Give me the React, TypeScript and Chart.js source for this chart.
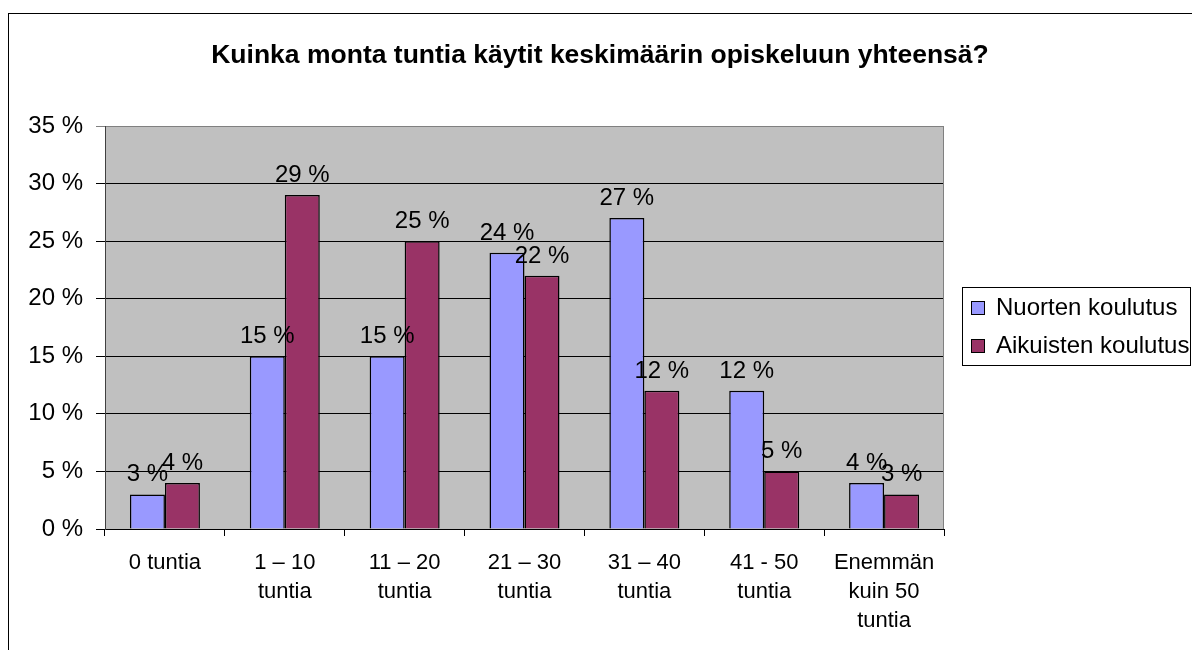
import React, { useEffect, useRef } from "react";
import { Chart, registerables } from "chart.js";

Chart.register(...registerables);

const TITLE = "Kuinka monta tuntia käytit keskimäärin opiskeluun yhteensä?";
const CATEGORIES: string[][] = [
  ["0 tuntia"],
  ["1 – 10", "tuntia"],
  ["11 – 20", "tuntia"],
  ["21 – 30", "tuntia"],
  ["31 – 40", "tuntia"],
  ["41 - 50", "tuntia"],
  ["Enemmän", "kuin 50", "tuntia"],
];
const SERIES_NAMES = ["Nuorten koulutus", "Aikuisten koulutus"];
const NUORTEN = [3, 15, 15, 24, 27, 12, 4];
const AIKUISTEN = [4, 29, 25, 22, 12, 5, 3];
const COLORS = ["#9999FF", "#993366"];

const FONT = "'Liberation Sans', Arial, sans-serif";

const decorPlugin = {
  id: "decor",
  beforeDraw(chart: any) {
    const { ctx, chartArea } = chart;
    ctx.save();
    ctx.fillStyle = "#ffffff";
    ctx.fillRect(0, 0, chart.width, chart.height);
    ctx.fillStyle = "#C0C0C0";
    ctx.fillRect(chartArea.left, chartArea.top, chartArea.right - chartArea.left, chartArea.bottom - chartArea.top);
    ctx.restore();
  },
  afterDatasetsDraw(chart: any) {
    const { ctx, chartArea } = chart;
    ctx.save();
    // plot area right border
    ctx.strokeStyle = "#808080";
    ctx.lineWidth = 1;
    ctx.beginPath();
    ctx.moveTo(Math.round(chartArea.right) - 0.5, chartArea.top);
    ctx.lineTo(Math.round(chartArea.right) - 0.5, chartArea.bottom);
    ctx.stroke();

    // data labels
    ctx.fillStyle = "#000";
    ctx.font = `24px ${FONT}`;
    ctx.textAlign = "center";
    ctx.textBaseline = "alphabetic";
    chart.data.datasets.forEach((ds: any, di: number) => {
      const meta = chart.getDatasetMeta(di);
      meta.data.forEach((bar: any, i: number) => {
        ctx.fillText(`${ds.data[i]} %`, bar.x, bar.y - 13);
      });
    });

    // title
    ctx.font = `bold 26.5px ${FONT}`;
    ctx.fillText(TITLE, 600, 63);

    // outer border
    ctx.strokeStyle = "#000";
    ctx.strokeRect(8.5, 13.5, 1300, 800);

    // legend
    ctx.strokeRect(962.5, 287.5, 228, 78);
    ctx.textAlign = "left";
    ctx.font = `24px ${FONT}`;
    chart.data.datasets.forEach((ds: any, di: number) => {
      const y0 = 301 + di * 38;
      ctx.fillStyle = ds.backgroundColor;
      ctx.fillRect(971, y0, 14, 14);
      ctx.strokeStyle = "#000";
      ctx.strokeRect(971.5, y0 + 0.5, 13, 13);
      ctx.fillStyle = "#000";
      ctx.fillText(ds.label, 996, y0 + 14);
    });
    ctx.restore();
  },
};

export default function App() {
  const ref = useRef<HTMLCanvasElement | null>(null);
  useEffect(() => {
    if (!ref.current) return;
    const chart = new Chart(ref.current, {
      type: "bar",
      data: {
        labels: CATEGORIES,
        datasets: [
          {
            label: SERIES_NAMES[0],
            data: NUORTEN,
            backgroundColor: COLORS[0],
            borderColor: "#000",
            borderWidth: 1.5,
          },
          {
            label: SERIES_NAMES[1],
            data: AIKUISTEN,
            backgroundColor: COLORS[1],
            borderColor: "#000",
            borderWidth: 1.5,
          },
        ],
      },
      options: {
        animation: false,
        responsive: false,
        devicePixelRatio: 1,
        layout: { padding: { left: 0, top: 126, right: 248, bottom: 0 } },
        datasets: { bar: { barPercentage: 1, categoryPercentage: 0.584 } },
        plugins: {
          legend: { display: false },
          title: { display: false },
          tooltip: { enabled: false },
        },
        scales: {
          x: {
            afterFit: (s: any) => {
              s.height = 121;
            },
            grid: {
              offset: true,
              drawOnChartArea: false,
              drawTicks: true,
              tickLength: 7,
              color: "#000",
            },
            border: { color: "#000", width: 1 },
            ticks: {
              color: "#000",
              padding: 12,
              maxRotation: 0,
              autoSkip: false,
              font: { family: FONT, size: 22, lineHeight: 1.32 },
            },
          },
          y: {
            min: 0,
            max: 35,
            afterFit: (s: any) => {
              s.width = 105;
            },
            grid: {
              color: (c: any) => (c.tick && c.tick.value === 35 ? "#808080" : "#000"),
              tickLength: 9,
              drawTicks: true,
            },
            border: { color: "#404040", width: 1 },
            ticks: {
              stepSize: 5,
              color: "#000",
              padding: 13,
              font: { family: FONT, size: 24 },
              callback: (v: any) => `${v} %`,
            },
          },
        },
      },
      plugins: [decorPlugin],
    });
    return () => chart.destroy();
  }, []);
  return (
    <div style={{ position: "absolute", left: 0, top: 0, width: 1192, height: 650 }}>
      <canvas ref={ref} width={1192} height={650} />
    </div>
  );
}
